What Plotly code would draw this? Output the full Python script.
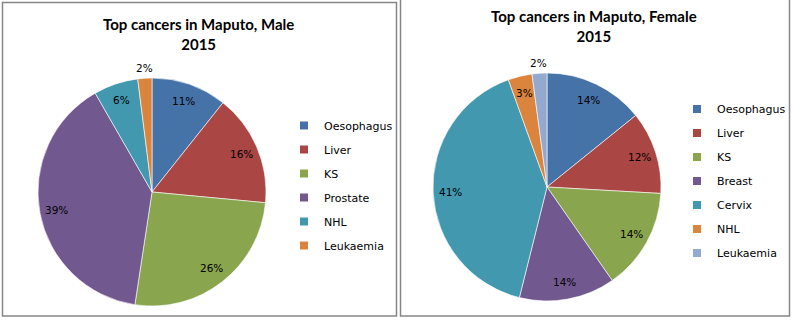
import math
import plotly.graph_objects as go

W, H = 794, 321

# ---- data ----
male_categories = ["Oesophagus", "Liver", "KS", "Prostate", "NHL", "Leukaemia"]
male_values = [10.7, 15.8, 25.9, 39.3, 6.3, 2.0]
male_colors = ["#4572A7", "#AA4643", "#89A54E", "#71588F", "#4198AF", "#DB843D"]

female_categories = ["Oesophagus", "Liver", "KS", "Breast", "Cervix", "NHL", "Leukaemia"]
female_values = [14.2, 11.7, 14.4, 13.6, 40.6, 3.4, 2.1]
female_colors = ["#4572A7", "#AA4643", "#89A54E", "#71588F", "#4198AF", "#DB843D", "#93A9CF"]

male_title = "Top cancers in Maputo, Male<br>2015"
female_title = "Top cancers in Maputo, Female<br>2015"


def px_x(v):
    return v / W


def px_y(v):
    return 1 - v / H


LABEL_FONT = dict(family="DejaVu Sans", size=10.5, color="#000000")

fig = go.Figure()
annotations = []


def add_pie(cats, vals, cols, dom_x, dom_y):
    fig.add_trace(go.Pie(
        labels=cats, values=vals, sort=False, direction="clockwise", rotation=0,
        marker=dict(colors=cols, line=dict(color="white", width=0.6)),
        textinfo="none", showlegend=False, hoverinfo="label+percent",
        domain=dict(x=[px_x(dom_x[0]), px_x(dom_x[1])], y=[px_y(dom_y[1]), px_y(dom_y[0])]),
    ))
    # data labels placed along each slice's bisector (derived from the values)
    cx = (dom_x[0] + dom_x[1]) / 2
    cy = (dom_y[0] + dom_y[1]) / 2
    r = min(dom_x[1] - dom_x[0], dom_y[1] - dom_y[0]) / 2
    total = sum(vals)
    cum = 0.0
    for v in vals:
        mid = (cum + v / 2) / total * 2 * math.pi
        cum += v
        f = 1.09 if v / total < 0.025 else 0.85
        lx = cx + r * f * math.sin(mid)
        ly = cy - r * f * math.cos(mid)
        annotations.append(dict(
            text=f"{round(100 * v / total)}%", xref="paper", yref="paper",
            x=px_x(lx), y=px_y(ly), xanchor="center", yanchor="middle",
            showarrow=False, font=LABEL_FONT))


add_pie(male_categories, male_values, male_colors, (38, 266), (78, 306))
add_pie(female_categories, female_values, female_colors, (433, 661), (73, 301))


def add_legend(cats, cols, legend_id):
    for i, (c, col) in enumerate(zip(cats, cols)):
        fig.add_trace(go.Scatter(
            x=[None], y=[None], mode="markers", name=c,
            marker=dict(symbol="square", size=8, color=col),
            legend=legend_id, legendgroup=f"{legend_id}_{i}", showlegend=True,
        ))


add_legend(male_categories, male_colors, "legend")
add_legend(female_categories, female_colors, "legend2")

legend_common = dict(
    font=dict(family="DejaVu Sans", size=11, color="#000000"),
    tracegroupgap=5, bgcolor="rgba(0,0,0,0)", borderwidth=0,
    xanchor="left", yanchor="top", itemclick=False, itemdoubleclick=False,
)

TITLE_FONT = dict(family="Lato", size=15, color="#000000")
annotations += [
    dict(text=f"<b>{male_title}</b>", xref="paper", yref="paper",
         x=px_x(198), y=px_y(13), xanchor="center", yanchor="top", showarrow=False,
         font=TITLE_FONT),
    dict(text=f"<b>{female_title}</b>", xref="paper", yref="paper",
         x=px_x(594), y=px_y(5), xanchor="center", yanchor="top", showarrow=False,
         font=TITLE_FONT),
]

fig.update_layout(
    width=W, height=H, margin=dict(l=0, r=0, t=0, b=0, autoexpand=False),
    paper_bgcolor="white", plot_bgcolor="white",
    xaxis=dict(visible=False), yaxis=dict(visible=False),
    legend=dict(x=px_x(284), y=px_y(111), **legend_common),
    legend2=dict(x=px_x(677), y=px_y(94.5), **legend_common),
    shapes=[
        dict(type="rect", xref="paper", yref="paper",
             x0=px_x(2.5), x1=px_x(396.5), y0=px_y(316), y1=px_y(2.5),
             line=dict(color="#868686", width=1.5)),
        dict(type="rect", xref="paper", yref="paper",
             x0=px_x(400.5), x1=px_x(789.5), y0=px_y(316), y1=px_y(-10),
             line=dict(color="#868686", width=1.5)),
    ],
    annotations=annotations,
)

fig.write_html("out.html")
